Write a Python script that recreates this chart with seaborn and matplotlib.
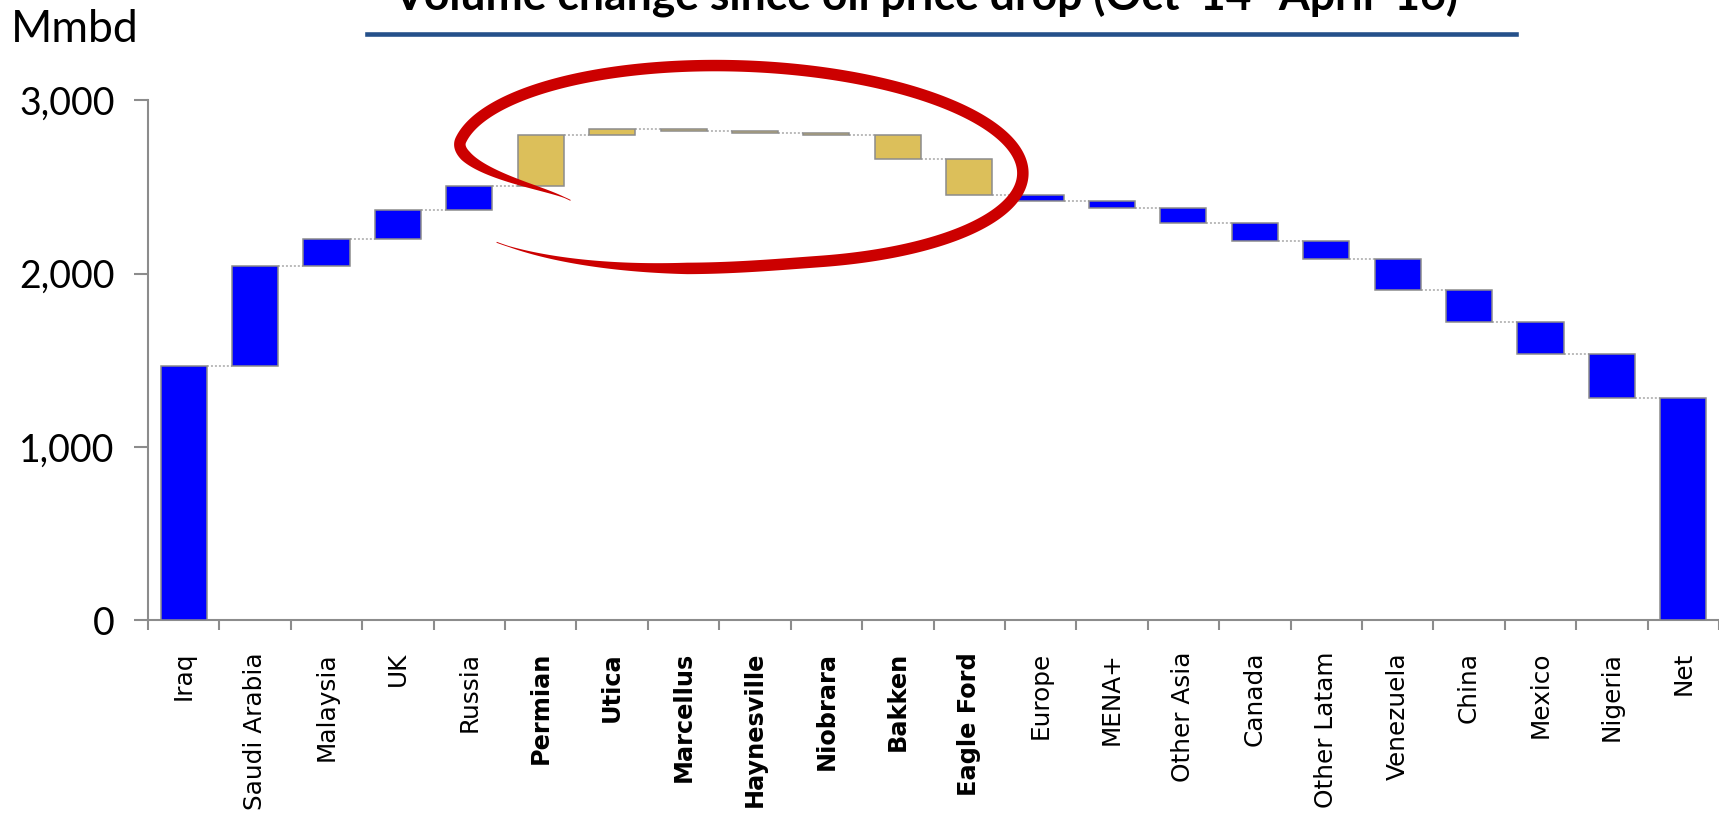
import numpy as np
import pandas as pd
import matplotlib
matplotlib.use("Agg")
import matplotlib.pyplot as plt
from matplotlib.patches import Polygon
from matplotlib.lines import Line2D
import seaborn as sns

# ---------------- data ----------------
categories = ["Iraq", "Saudi Arabia", "Malaysia", "UK", "Russia", "Permian", "Utica",
              "Marcellus", "Haynesville", "Niobrara", "Bakken", "Eagle Ford", "Europe",
              "MENA+", "Other Asia", "Canada", "Other Latam", "Venezuela", "China",
              "Mexico", "Nigeria", "Net"]
changes = [1466, 577, 159, 164, 138, 298, 35, -15, -9, -11, -141, -205, -36,
           -43, -82, -104, -104, -183, -184, -185, -255]
net_total = 1280
shale_plays = ["Permian", "Utica", "Marcellus", "Haynesville", "Niobrara", "Bakken", "Eagle Ford"]
yticks = [0, 1000, 2000, 3000]
ytick_labels = ["0", "1,000", "2,000", "3,000"]
title_text = "Volume change since oil price drop (Oct '14- April '16)"
unit_text = "Mmbd"

# ---------------- derived waterfall geometry ----------------
cum = np.cumsum(changes)
bottoms = list(np.concatenate([[0], cum[:-1]])) + [0]
heights = list(changes) + [net_total]
df = pd.DataFrame({"cat": categories, "height": heights, "bottom": bottoms})

W, H = 1719, 813
fig = plt.figure(figsize=(W / 100, H / 100), dpi=100)
ax = fig.add_axes([148 / W, 1 - 620 / H, (W - 148) / W, 519.5 / H])

blue = "#0000FF"
gold = "#DCBF5A"
edge = "#8C8C8C"
bar_w = 0.645

sns.barplot(data=df, x="cat", y="height", order=categories, bottom=df["bottom"].values,
            width=bar_w, color=blue, saturation=1, errorbar=None,
            edgecolor=edge, linewidth=1.1, ax=ax, zorder=3)

for patch, cat in zip(ax.patches, categories):
    patch.set_facecolor(gold if cat in shale_plays else blue)
    patch.set_edgecolor(edge)

# dotted connectors
levels = list(cum)
for i in range(len(categories) - 1):
    ax.plot([i + bar_w / 2, i + 1 - bar_w / 2], [levels[i], levels[i]],
            color="#A8A8A8", lw=1.1, linestyle=(0, (1.3, 1.3)), zorder=2)

ax.set_xlim(-0.5, len(categories) - 0.5)
ax.set_ylim(0, 3000)
for s in ["top", "right"]:
    ax.spines[s].set_visible(False)
for s in ["left", "bottom"]:
    ax.spines[s].set_color("#8C8C8C")
    ax.spines[s].set_linewidth(1.5)

ax.set_xlabel("")
ax.set_ylabel("")
ax.set_yticks(yticks)
ax.set_yticklabels(ytick_labels, fontsize=27, family="Lato")
ax.tick_params(axis="y", length=10, width=1.5, color="#8C8C8C", pad=14)

ax.set_xticks(np.arange(len(categories)))
ax.set_xticklabels(categories, rotation=90, fontsize=17.8, family="DejaVu Sans")
ax.tick_params(axis="x", which="major", length=0, pad=23)
ax.set_xticks(np.arange(-0.5, len(categories), 1), minor=True)
ax.tick_params(axis="x", which="minor", length=7.2, width=1.5, color="#8C8C8C")
for lbl in ax.get_xticklabels():
    lbl.set_verticalalignment("top")
    if lbl.get_text() in shale_plays:
        lbl.set_fontweight("bold")
        lbl.set_fontsize(17.3)

# title (clipped at top in the original) and underline
fig.text(926 / W, 1 - 10 / H, title_text, ha="center", va="baseline",
         fontsize=32, fontweight="bold", family="Lato", color="black")
fig.add_artist(Line2D([367 / W, 1516 / W], [1 - 34.5 / H, 1 - 34.5 / H],
                      transform=fig.transFigure, color="#25508A", lw=3.3))
fig.text(11 / W, 1 - 42 / H, unit_text, ha="left", va="baseline",
         fontsize=32, family="Lato", color="black")

# hand-drawn red ellipse (annotation)
def smooth(v):
    v = np.clip(v, 0, 1)
    return v * v * (3 - 2 * v)

cx, cy, a, b = 740, 164.5, 283, 98.5
tilt = np.deg2rad(2.0)
t0, t1 = np.pi + 0.62, -np.pi + 0.80
t = np.linspace(t0, t1, 800)
ramp_start = np.pi - 0.15
s = 1.0 - 0.27 * smooth((t - ramp_start) / (t0 - ramp_start)) \
    + 0.22 * smooth((-np.pi / 2 + 0.3 - t) / (-np.pi / 2 + 0.3 - t1))
ex = s * a * np.cos(t)
ey = -s * b * np.sin(t)
px = cx + ex * np.cos(tilt) - ey * np.sin(tilt)
py = cy + ex * np.sin(tilt) + ey * np.cos(tilt)
u = np.linspace(0, 1, len(t))
wdt = 11.5 * np.clip(np.minimum(u / 0.10, (1 - u) / 0.10), 0.08, 1)
dx = np.gradient(px)
dy = np.gradient(py)
nrm = np.hypot(dx, dy)
nx, ny = -dy / nrm, dx / nrm
left = np.column_stack([px + nx * wdt / 2, py + ny * wdt / 2])
right = np.column_stack([px - nx * wdt / 2, py - ny * wdt / 2])
pts = np.vstack([left, right[::-1]])
pts_fig = np.column_stack([pts[:, 0] / W, 1 - pts[:, 1] / H])
fig.add_artist(Polygon(pts_fig, closed=True, transform=fig.transFigure,
                       facecolor="#CC0000", edgecolor="none", zorder=5))

fig.savefig("out.png", dpi=100)
